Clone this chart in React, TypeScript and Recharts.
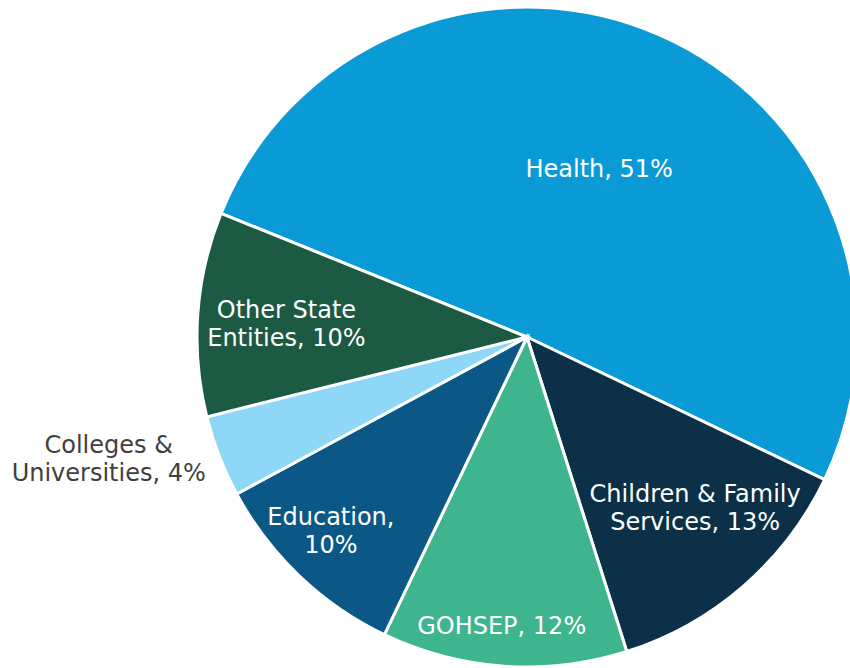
import React, { ReactElement } from "react";
import { Cell, Pie, PieChart } from "recharts";

const names = [
  "Health",
  "Children & Family Services",
  "GOHSEP",
  "Education",
  "Colleges & Universities",
  "Other State Entities",
];
const shares = [51, 13, 12, 10, 4, 10];
const labelLines = [
  ["Health, 51%"],
  ["Children & Family", "Services, 13%"],
  ["GOHSEP, 12%"],
  ["Education,", "10%"],
  ["Colleges &", "Universities, 4%"],
  ["Other State", "Entities, 10%"],
];

const colors = ["#0a9bd7", "#0b3048", "#3eb58e", "#0b5886", "#8ed7f6", "#1c5a43"];
const labelColors = ["#fff", "#fff", "#fff", "#fff", "#404040", "#fff"];
// label placement: fraction of radius, and angle nudge in degrees
const labelRadius = [0.555, 0.727, 0.88, 0.836, 1.32, 0.73];
const labelNudge = [0.6, 3.5, -1, -1.7, -5, 1];

const data = names.map((name, i) => ({ name, value: shares[i] }));

const RADIAN = Math.PI / 180;
const FONT = "DejaVu Sans, Verdana, sans-serif";

function renderLabel(props: any): ReactElement {
  const { cx, cy, midAngle, outerRadius, index } = props;
  const r = outerRadius * labelRadius[index];
  const a = (midAngle + labelNudge[index]) * RADIAN;
  const x = cx + r * Math.cos(-a);
  const y = cy + r * Math.sin(-a);
  const lines = labelLines[index];
  const lh = 28;
  const startDy = -((lines.length - 1) * lh) / 2;
  return (
    <text
      x={x}
      y={y}
      fill={labelColors[index]}
      textAnchor="middle"
      dominantBaseline="central"
      fontFamily={FONT}
      fontSize={24}
    >
      {lines.map((line, i) => (
        <tspan key={i} x={x} dy={i === 0 ? startDy : lh}>
          {line}
        </tspan>
      ))}
    </text>
  );
}

export default function App(): ReactElement {
  return (
    <div style={{ position: "absolute", left: 0, top: 0, background: "#fff" }}>
      <PieChart width={850} height={668} margin={{ top: 0, right: 0, bottom: 0, left: 0 }}>
        <Pie
          data={data}
          dataKey="value"
          nameKey="name"
          cx={527}
          cy={337}
          outerRadius={330}
          startAngle={158}
          endAngle={-202}
          stroke="#fff"
          strokeWidth={3}
          label={renderLabel}
          labelLine={false}
          isAnimationActive={false}
        >
          {data.map((entry, index) => (
            <Cell key={`cell-${index}`} fill={colors[index]} />
          ))}
        </Pie>
      </PieChart>
    </div>
  );
}
